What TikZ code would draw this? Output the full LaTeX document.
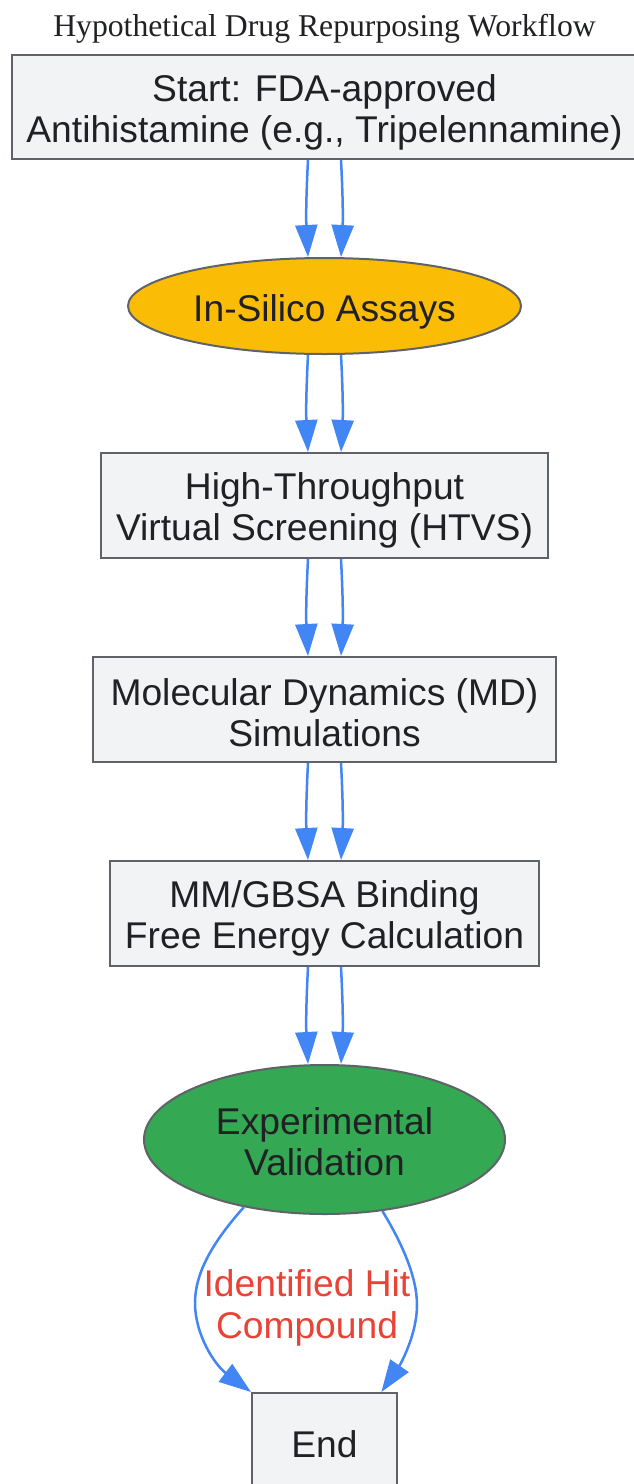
\documentclass[tikz,border=0pt]{standalone}
\usepackage{fontspec}
\setmainfont{Liberation Sans}
\newfontfamily\titlefont{Liberation Serif}
\usetikzlibrary{arrows.meta,shapes.geometric,calc}
\definecolor{boxfill}{HTML}{F1F3F4}
\definecolor{boxline}{HTML}{5F6368}
\definecolor{txt}{HTML}{202124}
\definecolor{edge}{HTML}{4285F4}
\definecolor{yel}{HTML}{FBBC05}
\definecolor{grn}{HTML}{34A853}
\definecolor{lbl}{HTML}{EA4335}
\begin{document}
\begin{tikzpicture}[x=1pt,y=-1pt,
  base/.style={draw=boxline,line width=2pt,inner sep=0pt},
  box/.style={base,rectangle,fill=boxfill},
  ell/.style={base,ellipse},
  ntext/.style={text=txt,align=center,inner sep=0pt,font=\fontsize{37.2}{41}\selectfont},
  flow/.style={draw=edge,line width=2.5pt,-{Triangle[length=32pt,width=22pt]}},
]
\useasboundingbox[fill=white] (0,0) rectangle (634,1484);
\node[anchor=base,text=txt,font=\titlefont\fontsize{31.7}{36}\selectfont] (title) at (324.5,36) {Hypothetical Drug Repurposing Workflow};
\node[box,minimum width=625pt,minimum height=104pt] (start) at (324.5,107) {};
\node[ell,fill=yel,minimum width=393pt,minimum height=96pt] (insilico) at (324.5,306) {};
\node[box,minimum width=447pt,minimum height=105pt] (htvs) at (324.5,505.5) {};
\node[box,minimum width=463pt,minimum height=105pt] (md) at (324.5,709.5) {};
\node[box,minimum width=429pt,minimum height=105pt] (mm) at (324.5,913.5) {};
\node[ell,fill=grn,minimum width=361pt,minimum height=149pt] (exp) at (324.5,1139.5) {};
\node[box,minimum width=145pt,minimum height=104pt] (end) at (324.5,1445) {};

\node[ntext] (start-t) at ($(start.center)+(0,5.5)$) {Start: FDA-approved\\Antihistamine (e.g., Tripelennamine)};
\node[ntext] (insilico-t) at ($(insilico.center)+(0,5.5)$) {In-Silico Assays};
\node[ntext] (htvs-t) at ($(htvs.center)+(0,4.5)$) {High-Throughput\\Virtual Screening (HTVS)};
\node[ntext] (md-t) at ($(md.center)+(0,3)$) {Molecular Dynamics (MD)\\Simulations};
\node[ntext] (mm-t) at ($(mm.center)+(0,5)$) {MM/GBSA Binding\\Free Energy Calculation};
\node[ntext] (exp-t) at ($(exp.center)+(0,2.5)$) {Experimental\\Validation};
\node[ntext] (end-t) at ($(end.center)+(0,-0.5)$) {End};

\foreach \a/\b in {start/insilico,insilico/htvs,htvs/md,md/mm,mm/exp}{
  \draw[flow] ([xshift=-16.5pt]\a.south) to[bend right=3] ([xshift=-16.5pt]\b.north);
  \draw[flow] ([xshift=16.5pt]\a.south) to[bend left=3] ([xshift=16.5pt]\b.north);
}
\draw[flow] (exp.220) .. controls (210,1245) and (195,1275) .. (195,1303)
  .. controls (195,1335) and (215,1365) .. (end.north west);
\draw[flow] (exp.309) .. controls (400,1240) and (417,1275) .. (417,1305)
  .. controls (417,1335) and (400,1365) .. (end.43.6);
\node[text=lbl,align=center,inner sep=0pt,font=\fontsize{37.2}{42}\selectfont] (hit) at (307,1308) {Identified Hit\\Compound};
\end{tikzpicture}
\end{document}
